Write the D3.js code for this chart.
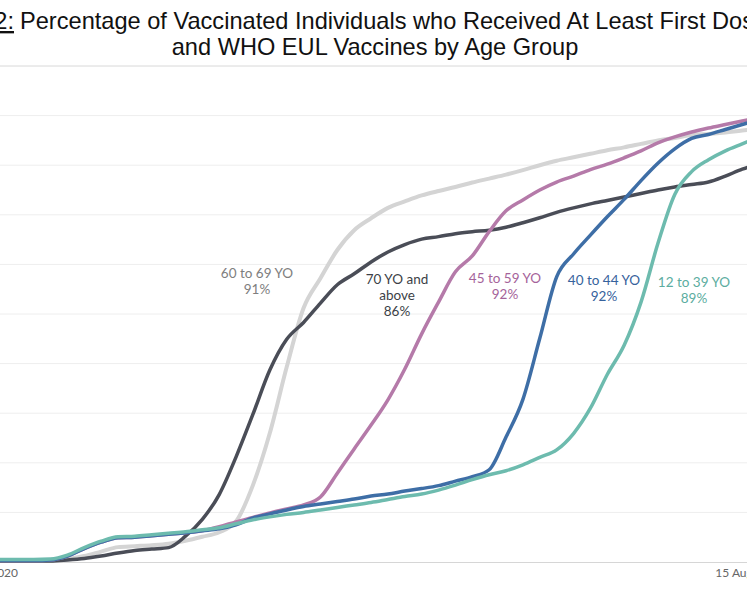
<!DOCTYPE html>
<html>
<head>
<meta charset="utf-8">
<script src="https://cdn.jsdelivr.net/npm/d3@7"></script>
<style>
  body { margin: 0; background: #fff; }
  svg { display: block; }
  .title { font-family: "Liberation Sans", Arial, sans-serif; font-size: 23.6px; fill: #111; }
  .note { font-family: Lato, "Noto Sans", sans-serif; font-size: 13.5px; text-anchor: middle; }
  .axis text { font-family: Lato, "Noto Sans", sans-serif; font-size: 12px; fill: #666; }
</style>
</head>
<body>
<script>
var width = 747, height = 598

// dates sampled every 5 days
var dates = ["2021-01-05","2021-01-10","2021-01-15","2021-01-20","2021-01-25","2021-01-30",
  "2021-02-04","2021-02-09","2021-02-14","2021-02-19","2021-02-24","2021-03-01","2021-03-06",
  "2021-03-11","2021-03-16","2021-03-21","2021-03-26","2021-03-31","2021-04-05","2021-04-10",
  "2021-04-15","2021-04-20","2021-04-25","2021-04-30","2021-05-05","2021-05-10","2021-05-15",
  "2021-05-20","2021-05-25","2021-05-30","2021-06-04","2021-06-09","2021-06-14","2021-06-19",
  "2021-06-24","2021-06-29","2021-07-04","2021-07-09","2021-07-14","2021-07-19","2021-07-24",
  "2021-07-29","2021-08-03","2021-08-08","2021-08-13","2021-08-18"]

// % with at least first dose, by age group
var age60to69 = [0.2,0.3,0.3,0.4,0.6,1.2,2.1,3.0,3.2,3.4,3.7,4.3,5.1,6.0,8.2,15.5,26.0,39.3,51.2,57.2,
  62.9,66.9,69.3,71.4,72.7,73.9,74.8,75.6,76.5,77.3,78.1,79.0,80.0,80.9,81.6,82.3,83.0,83.6,84.3,85.0,
  85.5,86.1,86.3,86.6,87.0,87.3]
var age70up = [0.2,0.2,0.2,0.2,0.4,0.7,1.2,1.8,2.3,2.6,2.9,5.2,8.6,13.6,21.2,29.8,38.7,44.9,48.3,52.2,
  55.9,58.1,60.5,62.5,64.0,65.1,65.6,66.2,66.6,66.9,67.5,68.4,69.4,70.5,71.4,72.2,72.9,73.6,74.3,75.0,
  75.6,76.1,76.6,77.8,79.2,80.2]
var age45to59 = [0.3,0.3,0.3,0.4,1.2,2.7,4.0,4.9,5.0,5.3,5.6,5.9,6.3,7.1,8.1,9.0,9.9,10.7,11.5,13.1,
  17.9,22.8,27.6,32.7,38.9,46.0,52.4,58.5,61.7,66.6,70.8,73.0,75.0,76.6,77.8,79.1,80.2,81.5,82.9,84.5,
  85.7,86.7,87.5,88.2,88.9,89.6]
var age40to44 = [0.3,0.3,0.3,0.4,1.2,2.7,4.0,4.9,5.0,5.3,5.6,5.9,6.3,6.7,7.5,8.9,9.7,10.5,11.2,11.7,
  12.2,12.7,13.3,13.7,14.3,14.8,15.4,16.3,17.2,18.6,25.2,32.8,45.1,57.5,62.1,65.9,69.6,73.1,76.9,80.4,
  83.3,85.4,86.2,87.2,88.2,89.2]
var age12to39 = [0.5,0.5,0.5,0.6,1.4,2.9,4.2,5.1,5.2,5.5,5.8,6.1,6.5,6.9,7.7,8.5,9.1,9.6,10.0,10.5,
  11.0,11.5,12.0,12.6,13.2,13.7,14.5,15.5,16.6,17.6,18.4,19.6,21.1,22.6,25.9,31.0,37.8,43.7,52.4,64.2,
  74.1,78.7,81.1,82.9,84.3,85.7]

var groupNames = ["60 to 69 YO", "70 YO and above", "45 to 59 YO", "40 to 44 YO", "12 to 39 YO"]
var latestPct = ["91%", "86%", "92%", "92%", "89%"]
var tickDates = ["2020-12-31", "2021-08-15"]

var lineColors = ["#d4d4d4", "#4a4d57", "#b57aa9", "#3e6ea6", "#6dbbae"]
var textColors = ["#7e7e7e", "#3c3f47", "#a5639a", "#36629c", "#5cada0"]

var parse = d3.timeParse("%Y-%m-%d")
var series = [age60to69, age70up, age45to59, age40to44, age12to39].map(function(vals, i) {
    return { name: groupNames[i], pct: latestPct[i],
             points: vals.map(function(v, j) { return { date: parse(dates[j]), value: v } }) }
})

var svg = d3.select("body").append("svg")
    .attr("width", width).attr("height", height)

var x = d3.scaleTime()
    .domain(tickDates.map(parse))
    .range([-17, 749])
var y = d3.scaleLinear()
    .domain([0, 100])
    .range([562, 66])

// gridlines
svg.append("g").selectAll("line")
    .data(d3.range(10, 100, 10))
    .enter().append("line")
    .attr("x1", 0).attr("x2", width)
    .attr("y1", function(d) { return y(d) }).attr("y2", function(d) { return y(d) })
    .style("stroke", "#eeeeee").style("stroke-width", 1)

svg.append("line")
    .attr("x1", 0).attr("x2", width)
    .attr("y1", y(100)).attr("y2", y(100))
    .style("stroke", "#d8d8d8").style("stroke-width", 1)

// x axis
var xAxis = svg.append("g")
    .attr("class", "axis")
    .attr("transform", "translate(0," + y(0) + ")")
    .call(d3.axisBottom(x)
        .tickValues(tickDates.map(parse))
        .tickFormat(d3.timeFormat("%-d %b %Y"))
        .tickSize(0)
        .tickPadding(6))
xAxis.select(".domain").style("stroke", "#d6d6d6")

// lines
var line = d3.line()
    .x(function(d) { return x(d.date) })
    .y(function(d) { return y(d.value) })
    .curve(d3.curveMonotoneX)

svg.append("g").selectAll("path")
    .data(series)
    .enter().append("path")
    .attr("d", function(d) { return line(d.points) })
    .style("fill", "none")
    .style("stroke", function(d, i) { return lineColors[i] })
    .style("stroke-width", function(d, i) { return i == 0 ? 4 : 3.5 })
    .style("stroke-linejoin", "round")

// labels, one text per line
var labelSpots = [[257, 278], [397, 284], [505, 283], [604, 285], [694, 287]]
series.forEach(function(s, i) {
    var lines = i == 1 ? ["70 YO and", "above", s.pct] : [s.name, s.pct]
    lines.forEach(function(l, k) {
        svg.append("text")
            .attr("class", "note")
            .attr("x", labelSpots[i][0])
            .attr("y", labelSpots[i][1] + k * 16)
            .style("fill", textColors[i])
            .text(l)
    })
})

// title
svg.append("text").attr("class", "title")
    .attr("x", 20).attr("y", 29)
    .text("Percentage of Vaccinated Individuals who Received At Least First Dose of")
svg.append("text").attr("class", "title")
    .attr("x", 14).attr("y", 29)
    .attr("text-anchor", "end")
    .style("text-decoration", "underline")
    .text("Figure 2:")
svg.append("text").attr("class", "title")
    .attr("x", 375).attr("y", 55)
    .attr("text-anchor", "middle")
    .text("and WHO EUL Vaccines by Age Group")
</script>
</body>
</html>
